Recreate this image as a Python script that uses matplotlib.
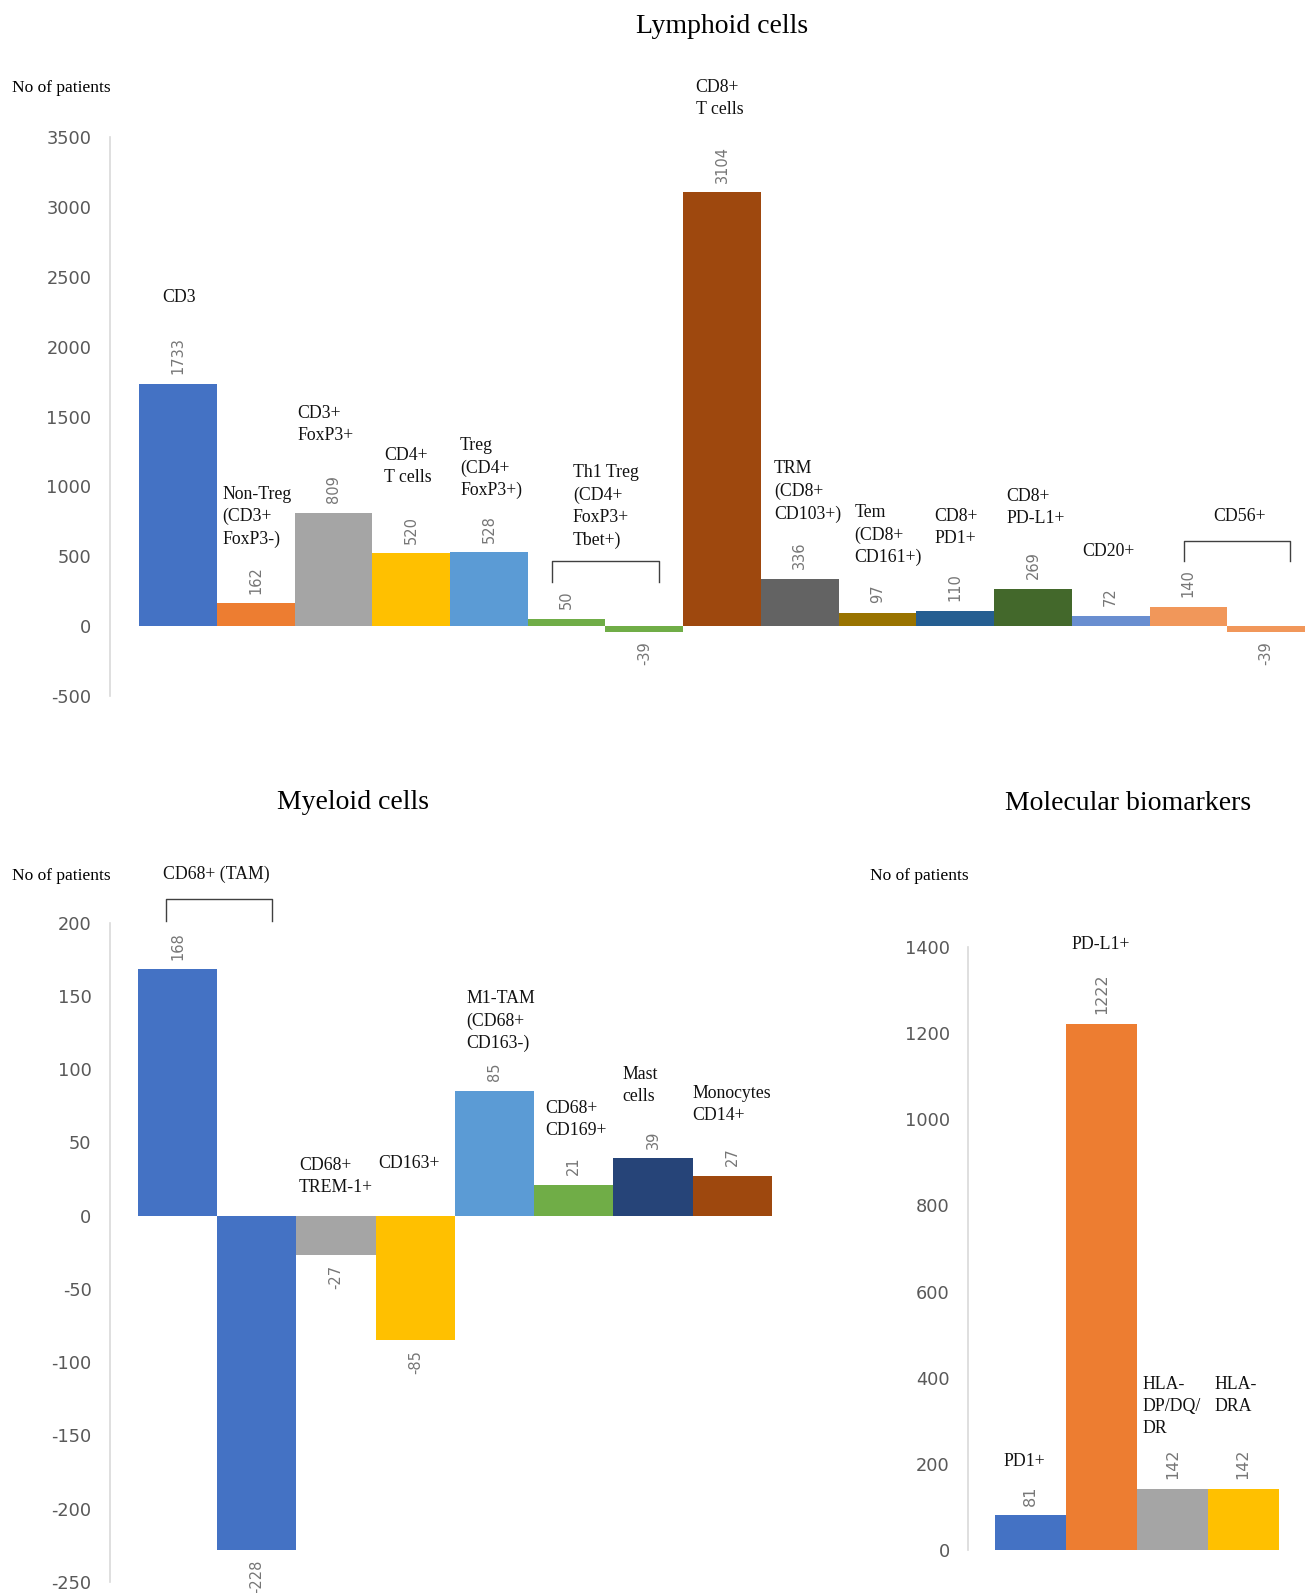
import matplotlib.pyplot as plt
import numpy as np

plt.rcParams['axes.unicode_minus'] = False

# Lymphoid cells
lymph_names = ['CD3', 'Non-Treg\n(CD3+\nFoxP3-)', 'CD3+\nFoxP3+', 'CD4+\nT cells',
               'Treg\n(CD4+\nFoxP3+)', 'Th1 Treg\n(CD4+\nFoxP3+\nTbet+)', '',
               'CD8+\nT cells', 'TRM\n(CD8+\nCD103+)', 'Tem\n(CD8+\nCD161+)',
               'CD8+\nPD1+', 'CD8+\nPD-L1+', 'CD20+', 'CD56+', '']
lymph_vals = [1733, 162, 809, 520, 528, 50, -39, 3104, 336, 97, 110, 269, 72, 140, -39]
lymph_colors = ['#4472C4', '#ED7D31', '#A5A5A5', '#FFC000', '#5B9BD5', '#70AD47', '#70AD47',
                '#9E480E', '#636363', '#997300', '#255E91', '#43682B', '#698ED0', '#F1975A', '#F1975A']

# Myeloid cells
myel_names = ['CD68+ (TAM)', '', 'CD68+\nTREM-1+', 'CD163+', 'M1-TAM\n(CD68+\nCD163-)',
              'CD68+\nCD169+', 'Mast\ncells', 'Monocytes\nCD14+']
myel_vals = [168, -228, -27, -85, 85, 21, 39, 27]
myel_colors = ['#4472C4', '#4472C4', '#A5A5A5', '#FFC000', '#5B9BD5', '#70AD47', '#264478', '#9E480E']

# Molecular biomarkers
mol_names = ['PD1+', 'PD-L1+', 'HLA-\nDP/DQ/\nDR', 'HLA-\nDRA']
mol_vals = [81, 1222, 142, 142]
mol_colors = ['#4472C4', '#ED7D31', '#A5A5A5', '#FFC000']

# label layout (data coords: left x, top y)
lymph_lab_pos = [(-0.2, 2416), (0.57, 1004), (1.54, 1586), (2.65, 1281), (3.63, 1353),
                 (5.08, 1157), None, (6.66, 3915), (7.67, 1186), (8.70, 873),
                 (9.73, 844), (10.66, 990), (11.64, 597), (13.32, 844), None]
myel_lab_pos = [(-0.18, 239), None, (1.53, 40), (2.53, 41), (3.64, 154),
                (4.64, 79), (5.61, 102), (6.5, 89)]
mol_lab_pos = [(-0.38, 226), (0.58, 1425), (1.58, 405), (2.6, 405)]

SERIF = 'Liberation Serif'
TICK_C = '#595959'
VAL_C = '#767676'

fig = plt.figure(figsize=(13.05, 15.93), dpi=100)


def setup(ax, ylim, ticks, xlim):
    ax.set_ylim(*ylim)
    ax.set_xlim(*xlim)
    ax.set_yticks(ticks)
    ax.tick_params(axis='y', length=0, pad=13, labelsize=12.8, labelcolor=TICK_C)
    ax.set_xticks([])
    for s in ['top', 'right', 'bottom']:
        ax.spines[s].set_visible(False)
    ax.spines['left'].set_color('#D9D9D9')
    ax.spines['left'].set_linewidth(1.2)
    ax.patch.set_visible(False)


def draw(ax, vals, colors, names, pos, vfs=10.5):
    x = np.arange(len(vals))
    ax.bar(x, vals, width=1.0, color=colors, linewidth=0)
    for xi, v in zip(x, vals):
        if v >= 0:
            ax.annotate(str(v), (xi, v), xytext=(0, 7), textcoords='offset points',
                        rotation=90, ha='center', va='bottom', fontsize=vfs, color=VAL_C)
        else:
            ax.annotate(str(v), (xi, v), xytext=(0, -7), textcoords='offset points',
                        rotation=90, ha='center', va='top', fontsize=vfs, color=VAL_C,
                        annotation_clip=False)
    for n, p in zip(names, pos):
        if p is None or not n:
            continue
        ax.text(p[0], p[1], n, ha='left', va='top', fontsize=12.8, family=SERIF,
                color='#111111', linespacing=1.4, clip_on=False)


def bracket(ax, x0, x1, ytop, ybot):
    ax.plot([x0, x0, x1, x1], [ybot, ytop, ytop, ybot], color='#404040', lw=1,
            clip_on=False, solid_joinstyle='round')


# top: lymphoid
ax1 = fig.add_axes([0.0840, 0.5631, 0.9160, 0.3508])
setup(ax1, (-500, 3500), np.arange(-500, 3501, 500), (-0.879, 14.5))
draw(ax1, lymph_vals, lymph_colors, lymph_names, lymph_lab_pos)
bracket(ax1, 4.81, 6.19, 466, 313)
bracket(ax1, 12.94, 14.31, 611, 466)

# bottom left: myeloid
ax2 = fig.add_axes([0.0840, 0.0070, 0.5074, 0.4139])
setup(ax2, (-250, 200), np.arange(-250, 201, 50), (-0.859, 7.5))
draw(ax2, myel_vals, myel_colors, myel_names, myel_lab_pos)
bracket(ax2, -0.15, 1.19, 216, 201)

# bottom right: molecular
ax3 = fig.add_axes([0.7416, 0.0268, 0.2381, 0.3788])
setup(ax3, (0, 1400), np.arange(0, 1401, 200), (-0.887, 3.5))
draw(ax3, mol_vals, mol_colors, mol_names, mol_lab_pos, vfs=11.5)

# titles
fig.text(0.553, 0.9835, 'Lymphoid cells', ha='center', va='center', fontsize=20, family=SERIF)
fig.text(0.2708, 0.4962, 'Myeloid cells', ha='center', va='center', fontsize=20, family=SERIF)
fig.text(0.8646, 0.4956, 'Molecular biomarkers', ha='center', va='center', fontsize=20, family=SERIF)
for fx, fy in [(0.0093, 0.9445), (0.0093, 0.4503), (0.667, 0.4503)]:
    fig.text(fx, fy, 'No of patients', ha='left', va='center', fontsize=12.5, family=SERIF)

fig.savefig('out.png', dpi=100)
